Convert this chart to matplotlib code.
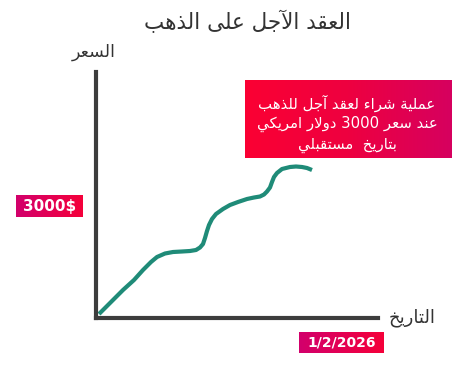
import numpy as np
import matplotlib
matplotlib.use("Agg")
import matplotlib.pyplot as plt
from matplotlib.colors import LinearSegmentedColormap

# curve (time -> price, arbitrary units)
time_pts = [3, 15, 27, 38, 47, 55, 61, 69, 77, 86, 94, 100, 104, 107, 109, 111, 113,
            116, 120, 127, 134, 142, 151, 158, 164, 168, 171, 174, 176, 178, 181,
            186, 194, 200, 206, 211, 216]
price_pts = [4, 16, 28, 38, 48, 56, 61, 64.5, 66, 66.5, 67, 68, 70.5, 74, 80, 87, 93,
             99, 104, 109, 113, 116, 119, 120.5, 121.5, 123.5, 126.5, 130.5, 136, 141, 145,
             149, 151, 151.5, 151, 150, 148]

title = "العقد الآجل على الذهب"
y_label = "السعر"
x_label = "التاريخ"
price_tag = "3000$"
date_tag = "1/2/2026"
note_lines = ["عملية شراء لعقد آجل للذهب",
              "عند سعر 3000 دولار امريكي",
              "بتاريخ  مستقبلي"]

W, H = 457, 366

# --- minimal arabic shaping (matplotlib has no text shaping) ---
_letters = "ءآأؤإئابةتثجحخدذرزسشصضطظعغفقكلمنهوىي"
_nforms = [1, 2, 2, 2, 2, 4, 2, 4, 2, 4, 4, 4, 4, 4, 2, 2, 2, 2, 4, 4, 4, 4,
           4, 4, 4, 4, 4, 4, 4, 4, 4, 4, 4, 2, 2, 4]
FORMS = {}
code = 0xFE80
for ch, n in zip(_letters, _nforms):
    FORMS[ch] = (code, n)
    code += n
LAM_ALEF = {"آ": 0xFEF5, "أ": 0xFEF7, "إ": 0xFEF9, "ا": 0xFEFB}


def joins(ch):
    return ch in FORMS and FORMS[ch][1] > 1


def dual(ch):
    return ch in FORMS and FORMS[ch][1] == 4


def shape_word(w):
    out = []
    i = 0
    while i < len(w):
        c = w[i]
        prev = w[i - 1] if i > 0 else ""
        nxt = w[i + 1] if i + 1 < len(w) else ""
        cp = dual(prev)
        if c == "ل" and nxt in LAM_ALEF:
            out.append(chr(LAM_ALEF[nxt] + (1 if cp else 0)))
            i += 2
            continue
        if c not in FORMS:
            out.append(c)
            i += 1
            continue
        start, n = FORMS[c]
        cn = n == 4 and joins(nxt)
        if n == 1:
            f = 0
        elif cp and cn:
            f = 3
        elif cp:
            f = 1
        elif cn:
            f = 2
        else:
            f = 0
        out.append(chr(start + f))
        i += 1
    s = "".join(out)
    if any(ch in FORMS for ch in w):
        s = s[::-1]
    return s


def ar(text):
    return " ".join(shape_word(w) for w in text.split(" ")[::-1])


plt.rcParams["font.family"] = ["DejaVu Sans"]

fig = plt.figure(figsize=(W / 100, H / 100), dpi=100)
fig.patch.set_facecolor("white")

# overlay in pixel coordinates for labels and boxes
ov = fig.add_axes([0, 0, 1, 1])
ov.set_xlim(0, W)
ov.set_ylim(H, 0)
ov.axis("off")

small_cmap = LinearSegmentedColormap.from_list("s", ["#d2006c", "#f5003a"])
big_cmap = LinearSegmentedColormap.from_list("b", ["#fb0033", "#ee0040", "#d6005f"])
grad = np.linspace(0, 1, 256).reshape(1, -1)


def grad_box(x0, y0, x1, y1, cmap):
    ov.imshow(grad, cmap=cmap, extent=[x0, x1, y1, y0], aspect="auto", zorder=1)


grad_box(16, 195, 83, 217, small_cmap)
grad_box(299, 332, 384, 353, small_cmap)
grad_box(245, 80, 452, 158, big_cmap)
ov.set_xlim(0, W)
ov.set_ylim(H, 0)

ov.text(248, 21, ar(title), ha="center", va="center", fontsize=15.5, color="#333333")
ov.text(94, 52, ar(y_label), ha="center", va="center", fontsize=12.5, color="#333333")
ov.text(412, 318, ar(x_label), ha="center", va="center", fontsize=13, color="#333333")
ov.text(49.5, 206, price_tag, ha="center", va="center", fontsize=11,
        color="white", fontweight="bold", zorder=2)
ov.text(342, 342.5, date_tag, ha="center", va="center", fontsize=10,
        color="white", fontweight="bold", zorder=2)
for k, line in enumerate(note_lines):
    ov.text(347, 103 + k * 21, ar(line), ha="center", va="center", fontsize=10.7,
            color="white", zorder=2)

# chart axes: left spine at x=96, bottom spine at y=318, top at y=72, right end x=378
ax = fig.add_axes([96 / W, (H - 318) / H, 282 / W, 246 / H])
ax.patch.set_alpha(0)
ax.plot(time_pts, price_pts, color="#1f8b78", lw=3, solid_capstyle="butt",
        solid_joinstyle="round")
ax.set_xlim(0, 282)
ax.set_ylim(0, 246)
ax.set_xticks([])
ax.set_yticks([])
for s in ["top", "right"]:
    ax.spines[s].set_visible(False)
for s in ["left", "bottom"]:
    ax.spines[s].set_color("#3d3d3d")
    ax.spines[s].set_linewidth(3)

fig.savefig("out.png", dpi=100)
